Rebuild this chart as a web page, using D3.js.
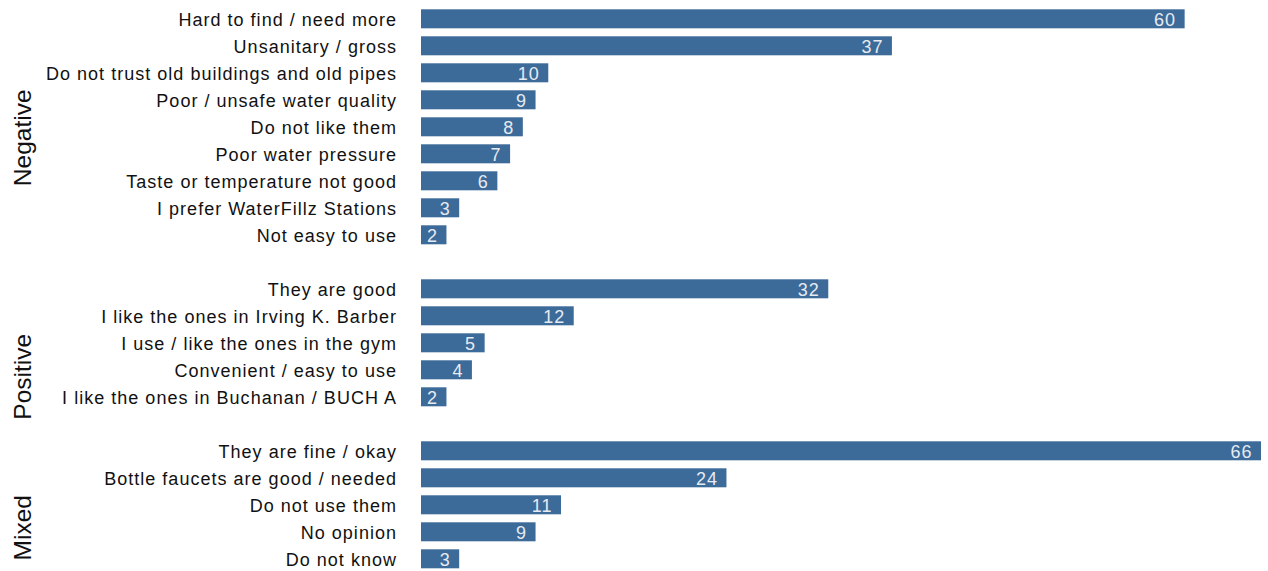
<!DOCTYPE html>
<html>
<head>
<meta charset="utf-8">
<script src="https://cdn.jsdelivr.net/npm/d3@7"></script>
<style>
  body { margin: 0; background: #fff; }
  text { font-family: "Liberation Sans", Arial, Helvetica, sans-serif; }
</style>
</head>
<body>
<svg></svg>
<script>
const width = 1268;
const height = 571;

// data
const groups = ["Negative", "Positive", "Mixed"];
const negativeLabels = ["Hard to find / need more", "Unsanitary / gross", "Do not trust old buildings and old pipes",
  "Poor / unsafe water quality", "Do not like them", "Poor water pressure", "Taste or temperature not good",
  "I prefer WaterFillz Stations", "Not easy to use"];
const negativeValues = [60, 37, 10, 9, 8, 7, 6, 3, 2];
const positiveLabels = ["They are good", "I like the ones in Irving K. Barber", "I use / like the ones in the gym",
  "Convenient / easy to use", "I like the ones in Buchanan / BUCH A"];
const positiveValues = [32, 12, 5, 4, 2];
const mixedLabels = ["They are fine / okay", "Bottle faucets are good / needed", "Do not use them", "No opinion", "Do not know"];
const mixedValues = [66, 24, 11, 9, 3];

// build rows, with an empty slot between groups
const groupData = [
  [negativeLabels, negativeValues],
  [positiveLabels, positiveValues],
  [mixedLabels, mixedValues]
];
const rows = [];
const slots = [];
groupData.forEach(function (g, gi) {
  if (gi > 0) slots.push("gap" + gi);
  g[0].forEach(function (label, i) {
    const key = groups[gi] + "|" + label;
    slots.push(key);
    rows.push({ key: key, group: groups[gi], label: label, value: g[1][i] });
  });
});

const svg = d3.select("svg")
  .attr("width", width)
  .attr("height", height);

const x = d3.scaleLinear()
  .domain([0, 66])
  .range([421, 1261]);

const y = d3.scaleBand()
  .domain(slots)
  .range([9.3, 568.3])
  .paddingInner(8 / 27)
  .paddingOuter(0);

const barColor = "#3c6a99";

svg.append("g")
  .selectAll("rect")
  .data(rows)
  .enter().append("rect")
  .attr("x", x(0))
  .attr("y", d => y(d.key))
  .attr("width", d => x(d.value) - x(0))
  .attr("height", y.bandwidth())
  .attr("fill", barColor);

// value labels inside the bar end
svg.append("g")
  .selectAll("text")
  .data(rows)
  .enter().append("text")
  .attr("x", d => x(d.value) - 8.5)
  .attr("y", d => y(d.key) + y.bandwidth() / 2 + 7.5)
  .attr("text-anchor", "end")
  .attr("font-size", 18)
  .attr("letter-spacing", 1)
  .attr("fill", "#e6ebf2")
  .text(d => d.value);

// category labels
svg.append("g")
  .selectAll("text")
  .data(rows)
  .enter().append("text")
  .attr("x", 397)
  .attr("y", d => y(d.key) + y.bandwidth() / 2 + 7.5)
  .attr("text-anchor", "end")
  .attr("font-size", 18)
  .attr("letter-spacing", 1.02)
  .attr("fill", "#111")
  .text(d => d.label);

// group headers (offset from the group's middle as in the original)
const headerShift = { Negative: 11, Positive: 34, Mixed: 23 };
groups.forEach(function (g) {
  const keys = rows.filter(r => r.group === g).map(r => r.key);
  const top = y(keys[0]);
  const bottom = y(keys[keys.length - 1]) + y.bandwidth();
  const cy = (top + bottom) / 2 + headerShift[g];
  svg.append("text")
    .attr("transform", "translate(31," + cy + ") rotate(-90)")
    .attr("text-anchor", "middle")
    .attr("font-size", 24.5)
    .attr("fill", "#111")
    .text(g);
});
</script>
</body>
</html>
